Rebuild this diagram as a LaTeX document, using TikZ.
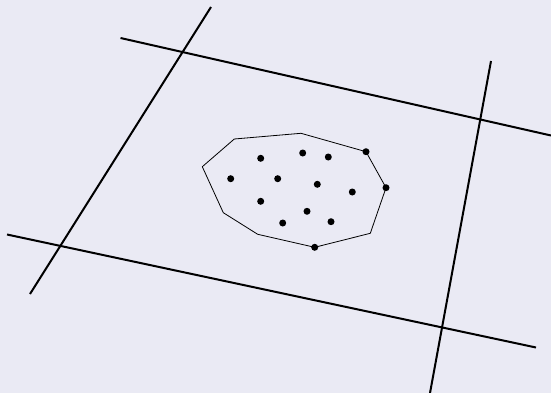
\documentclass[tikz,border=0pt]{standalone}
\usepackage{xcolor}
\usepackage{tikz}
\usetikzlibrary{calc}
\definecolor{bg}{HTML}{EAEAF4}
\definecolor{ink}{HTML}{000000}
\tikzset{
  cut/.style={ink, line width=2pt},
  hull/.style={ink, line width=0.8pt, line join=round},
  pt/.style={circle, fill=ink, inner sep=0pt, minimum size=7pt}
}

\begin{document}
\begin{tikzpicture}[x=1pt, y=-1pt]
  \fill[bg] (0,0) rectangle (551,393);
  \useasboundingbox (0,0) rectangle (551,393);
  % the four cutting lines
  \coordinate (a1) at (211,7);    \coordinate (a2) at (30,294);
  \coordinate (b1) at (120.5,38); \coordinate (b2) at (551,135.5);
  \coordinate (c1) at (7,234.5);  \coordinate (c2) at (536,347.5);
  \coordinate (d1) at (491,61);   \coordinate (d2) at (430,393);
  \draw[cut] (a1) -- (a2);
  \draw[cut] (b1) -- (b2);
  \draw[cut] (c1) -- (c2);
  \draw[cut] (d1) -- (d2);
  % hull of the point set
  \coordinate (h1) at (202.3,166.7);
  \coordinate (h2) at (234.3,139);
  \coordinate (h3) at (301,133.3);
  \coordinate (h4) at (366,151.7);
  \coordinate (h5) at (386,187.7);
  \coordinate (h6) at (370.3,233.3);
  \coordinate (h7) at (314.7,247.3);
  \coordinate (h8) at (257.7,234.3);
  \coordinate (h9) at (223.3,212.7);
  \draw[hull] (h1) -- (h2) -- (h3) -- (h4) -- (h5) -- (h6) -- (h7) -- (h8) -- (h9) -- cycle;
  % points
  \node[pt] (p1) at (260.7,158.3) {};
  \node[pt] (p2) at (302.7,153) {};
  \node[pt] (p3) at (328.3,157) {};
  \node[pt] (p4) at (h4) {};
  \node[pt] (p5) at (230.7,178.7) {};
  \node[pt] (p6) at (277.7,178.7) {};
  \node[pt] (p7) at (317.3,184.3) {};
  \node[pt] (p8) at (352.3,192) {};
  \node[pt] (p9) at (h5) {};
  \node[pt] (p10) at (260.7,201.3) {};
  \node[pt] (p11) at (307,211.3) {};
  \node[pt] (p12) at (282.7,223) {};
  \node[pt] (p13) at (331,221.7) {};
  \node[pt] (p14) at (h7) {};
\end{tikzpicture}
\end{document}
